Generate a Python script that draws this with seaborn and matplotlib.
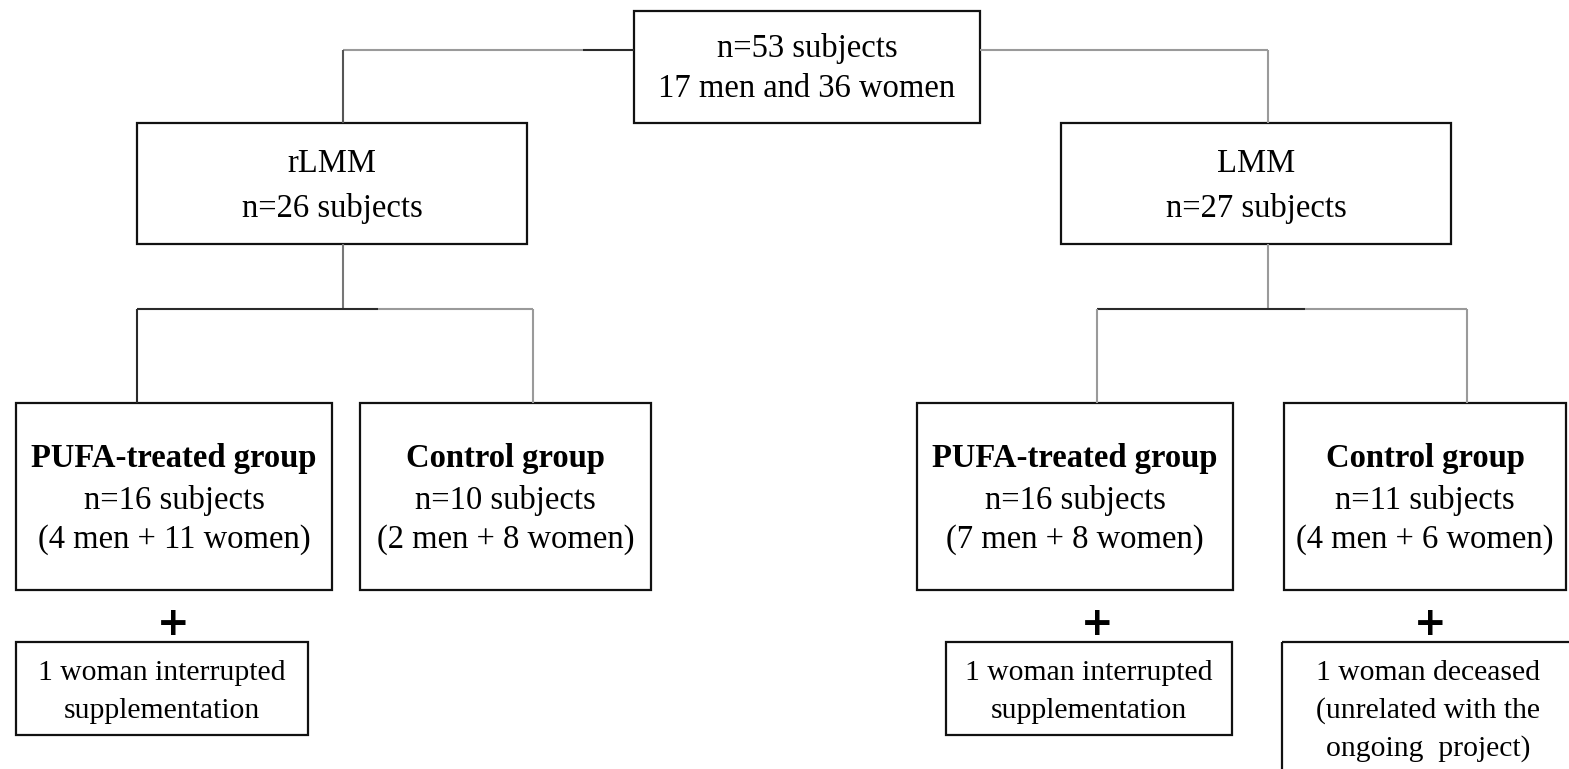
import seaborn as sns
import matplotlib.pyplot as plt
from matplotlib.patches import Rectangle

sns.set_style("white")
plt.rcParams['font.family'] = ['Liberation Serif', 'DejaVu Serif']
plt.rcParams['text.color'] = 'black'

# box texts
top_text = ["n=53 subjects", "17 men and 36 women"]
arm_names = ["rLMM", "LMM"]
arm_n = ["n=26 subjects", "n=27 subjects"]
group_names = ["PUFA-treated group", "Control group", "PUFA-treated group", "Control group"]
group_n = ["n=16 subjects", "n=10 subjects", "n=16 subjects", "n=11 subjects"]
group_sex = ["(4 men + 11 women)", "(2 men + 8 women)", "(7 men + 8 women)", "(4 men + 6 women)"]
dropouts = [["1 woman interrupted", "supplementation"],
            None,
            ["1 woman interrupted", "supplementation"],
            ["1 woman deceased", "(unrelated with the", "ongoing  project)"]]

fig = plt.figure(figsize=(15.69, 7.69), dpi=100)
ax = fig.add_axes([0, 0, 1, 1])
ax.set_xlim(0, 1569)
ax.set_ylim(769, 0)
ax.axis("off")

DARK = "#2a2a2a"
GREY = "#9a9a9a"
FS = 23.5


def box(x0, y0, x1, y1):
    ax.add_patch(Rectangle((x0, y0), x1 - x0, y1 - y0, fill=False,
                           edgecolor="#111111", lw=1.6, clip_on=False))


def seg(xs, ys, c):
    ax.plot(xs, ys, color=c, lw=1.5, solid_capstyle="butt")


# top box
box(634, 11, 980, 123)
ax.text(807, 48, top_text[0], ha="center", va="center", fontsize=FS)
ax.text(807, 89, top_text[1], ha="center", va="center", fontsize=FS)

# arm boxes
arm_x = [(137, 527), (1061, 1451)]
for (x0, x1), name, n in zip(arm_x, arm_names, arm_n):
    box(x0, 123, x1, 244)
    ax.text((x0 + x1) / 2, 164, name, ha="center", va="center", fontsize=FS)
    ax.text((x0 + x1) / 2, 208, n, ha="center", va="center", fontsize=FS)

# connectors top -> arms
seg([343, 583], [50, 50], GREY)
seg([583, 634], [50, 50], DARK)
seg([343, 343], [50, 123], "#555555")
seg([980, 1268], [50, 50], GREY)
seg([1268, 1268], [50, 123], GREY)

# connectors arms -> groups
seg([343, 343], [244, 309], "#777777")
seg([137, 378], [309, 309], DARK)
seg([378, 533], [309, 309], GREY)
seg([137, 137], [309, 403], DARK)
seg([533, 533], [309, 403], GREY)

seg([1268, 1268], [244, 309], GREY)
seg([1097, 1305], [309, 309], DARK)
seg([1305, 1467], [309, 309], GREY)
seg([1097, 1097], [309, 403], GREY)
seg([1467, 1467], [309, 403], GREY)

# group boxes
group_x = [(16, 332), (360, 651), (917, 1233), (1284, 1566)]
for (x0, x1), name, n, sex in zip(group_x, group_names, group_n, group_sex):
    box(x0, 403, x1, 590)
    cx = (x0 + x1) / 2
    ax.text(cx, 458, name, ha="center", va="center", fontsize=FS, fontweight="bold")
    ax.text(cx, 500, n, ha="center", va="center", fontsize=FS)
    ax.text(cx, 540, sex, ha="center", va="center", fontsize=FS)

# dropouts
drop_x = [(16, 308), None, (946, 1232), (1282, 1575)]
plus_x = [173, None, 1097, 1430]
for lines, bx, px in zip(dropouts, drop_x, plus_x):
    if lines is None:
        continue
    ax.text(px, 624, "+", ha="center", va="center", fontsize=28,
            fontweight="bold", family=["DejaVu Sans"])
    x0, x1 = bx
    y1 = 735 if len(lines) == 2 else 790
    box(x0, 642, x1, y1)
    for i, t in enumerate(lines):
        ax.text((x0 + x1) / 2, 673 + 38 * i, t, ha="center", va="center", fontsize=21.3)

fig.savefig("out.png", dpi=100)
